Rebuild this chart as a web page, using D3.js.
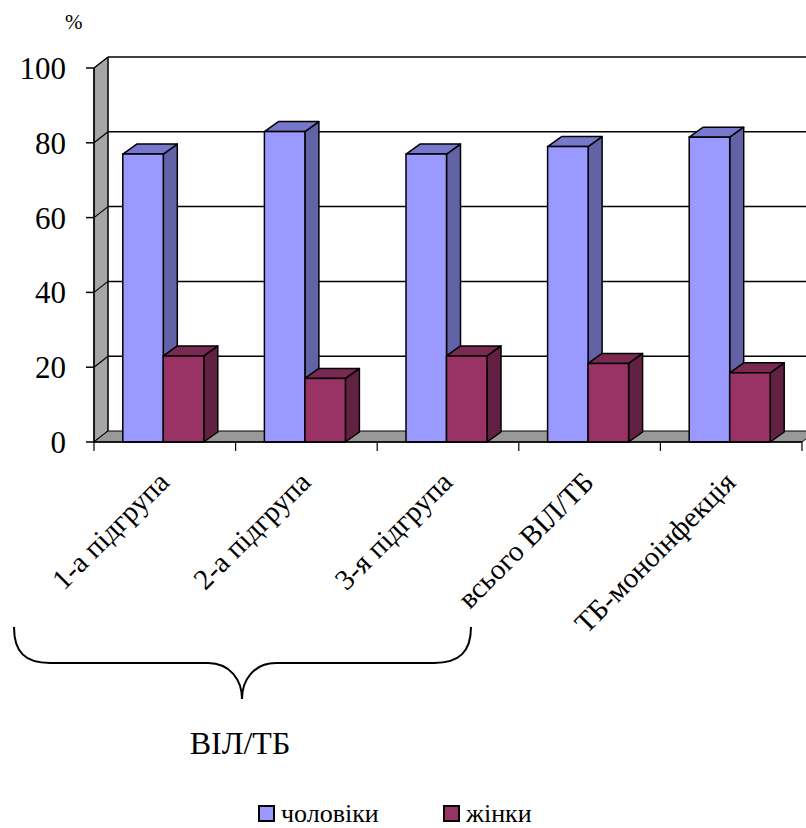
<!DOCTYPE html>
<html>
<head>
<meta charset="utf-8">
<script src="https://cdn.jsdelivr.net/npm/d3@7"></script>
<style>
  html, body { margin: 0; padding: 0; background: #fff; }
  svg { display: block; }
</style>
</head>
<body>
<svg id="chart" width="806" height="828"></svg>
<script>
// Share of men and women per group, %
const categories = ["1-а підгрупа", "2-а підгрупа", "3-я підгрупа", "всього ВІЛ/ТБ", "ТБ-моноінфекція"];
const men   = [77, 83, 77, 79, 81.5];
const women = [23, 17, 23, 21, 18.5];
const yTicks = [0, 20, 40, 60, 80, 100];
const seriesNames = ["чоловіки", "жінки"];

const svg = d3.select("#chart");
const txt = svg.append("g").attr("class", "texts");
function label(xp, yp, s, size, anchor) {
  return txt.append("text").attr("x", xp).attr("y", yp)
    .attr("font-family", "Liberation Serif").attr("font-size", size)
    .attr("text-anchor", anchor || "start").attr("fill", "#000").text(s);
}

// 3D depth offset of the back wall
const DX = 14, DY = -11;
// bar depth
const BDX = 14, BDY = -10;

const x = d3.scaleBand().domain(categories).range([94, 802]);
const y = d3.scaleLinear().domain([0, 100]).range([442, 68]);
const bw = x.bandwidth();
const barW = bw * 0.286;

const colors = [
  { front: "#9999ff", top: "#7777cc", side: "#6262a6" },
  { front: "#993366", top: "#7a2952", side: "#622043" }
];

const x0 = x.range()[0], x1 = x.range()[1];
const yb = y(0), yt = y(100);

const shapes = svg.insert("g", ".texts");

// left wall
shapes.append("polygon")
  .attr("points", [[x0, yt], [x0 + DX, yt + DY], [x0 + DX, yb + DY], [x0, yb]].join(" "))
  .attr("fill", "#a6a6a6").attr("stroke", "#000").attr("stroke-width", 1);

// back wall gridlines and diagonal ticks on the side wall
yTicks.forEach(t => {
  const yy = y(t);
  if (t > 0) {
    shapes.append("line")
      .attr("x1", x0 + DX).attr("x2", x1 + DX)
      .attr("y1", yy + DY).attr("y2", yy + DY)
      .attr("stroke", "#000").attr("stroke-width", 1.5);
  }
  shapes.append("line")
    .attr("x1", x0).attr("y1", yy)
    .attr("x2", x0 + DX).attr("y2", yy + DY)
    .attr("stroke", "#000").attr("stroke-width", 1.2);
  // value axis tick
  shapes.append("line")
    .attr("x1", x0 - 8).attr("x2", x0)
    .attr("y1", yy).attr("y2", yy)
    .attr("stroke", "#000").attr("stroke-width", 1.5);
  label(x0 - 28, yy + 11, String(t), 31, "end");
});
shapes.append("line")
  .attr("x1", x0 + DX).attr("x2", x0 + DX)
  .attr("y1", yt + DY).attr("y2", yb + DY)
  .attr("stroke", "#000").attr("stroke-width", 1);
// value axis line
shapes.append("line")
  .attr("x1", x0).attr("x2", x0).attr("y1", yt).attr("y2", yb)
  .attr("stroke", "#000").attr("stroke-width", 1.5);

// floor
shapes.append("polygon")
  .attr("points", [[x0, yb], [x1, yb], [x1 + DX, yb + DY], [x0 + DX, yb + DY]].join(" "))
  .attr("fill", "#999999").attr("stroke", "#000").attr("stroke-width", 1);

// 3D bars
function bar(g, bx, v, c) {
  const ytop = y(v);
  g.append("polygon")
    .attr("points", [[bx + barW, ytop], [bx + barW + BDX, ytop + BDY], [bx + barW + BDX, yb + BDY], [bx + barW, yb]].join(" "))
    .attr("fill", c.side).attr("stroke", "#000").attr("stroke-width", 1.5).attr("stroke-linejoin", "round");
  g.append("polygon")
    .attr("points", [[bx, ytop], [bx + BDX, ytop + BDY], [bx + barW + BDX, ytop + BDY], [bx + barW, ytop]].join(" "))
    .attr("fill", c.top).attr("stroke", "#000").attr("stroke-width", 1.5).attr("stroke-linejoin", "round");
  g.append("rect")
    .attr("x", bx).attr("y", ytop).attr("width", barW).attr("height", yb - ytop)
    .attr("fill", c.front).attr("stroke", "#000").attr("stroke-width", 1.5);
}

categories.forEach((cat, i) => {
  const cx = x(cat) + bw / 2 - 1.5;
  bar(shapes, cx - barW, men[i], colors[0]);
  bar(shapes, cx, women[i], colors[1]);
});

// category axis: baseline and boundary ticks
shapes.append("line").attr("x1", x0).attr("x2", x1).attr("y1", yb).attr("y2", yb)
  .attr("stroke", "#000").attr("stroke-width", 1.5);
categories.map(c => x(c)).concat([x1]).forEach(b => {
  shapes.append("line")
    .attr("x1", b).attr("x2", b).attr("y1", yb).attr("y2", yb + 9)
    .attr("stroke", "#000").attr("stroke-width", 1.2);
});

label(65, 29, "%", 21);

// rotated category labels
categories.forEach(c => {
  label(0, 0, c, 29, "end")
    .attr("transform", `translate(${x(c) + bw / 2 + 6},484) rotate(-45)`);
});

// brace grouping the three subgroups
const brace = d3.path();
brace.moveTo(14, 627);
brace.bezierCurveTo(14, 652, 25, 663, 50, 663);
brace.lineTo(208, 663);
brace.bezierCurveTo(230, 663, 242, 680, 242, 699);
brace.bezierCurveTo(242, 680, 254, 663, 276, 663);
brace.lineTo(434, 663);
brace.bezierCurveTo(459, 663, 471, 652, 471, 627);
shapes.append("path").attr("d", brace.toString())
  .attr("fill", "none").attr("stroke", "#000").attr("stroke-width", 2);

label(240, 754, "ВІЛ/ТБ", 32, "middle");

// legend
const legendX = [259, 444];
seriesNames.forEach((n, i) => {
  shapes.append("rect").attr("x", legendX[i]).attr("y", 806)
    .attr("width", 15).attr("height", 15)
    .attr("fill", colors[i].front).attr("stroke", "#000").attr("stroke-width", 2);
  label(legendX[i] + 22, 822, n, 26);
});
</script>
</body>
</html>
